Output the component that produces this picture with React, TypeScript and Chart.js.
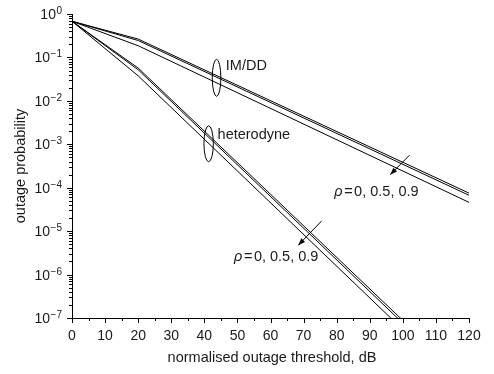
import React, { useEffect, useRef } from 'react';
import { Chart, registerables } from 'chart.js';

Chart.register(...registerables);

// Normalised outage threshold (dB)
const imddThresholds = [0, 20, 120];
const imddRho0 = [0.68, 0.265, 7.5e-5];
const imddRho05 = [0.68, 0.245, 6.7e-5];
const imddRho09 = [0.68, 0.186, 4.6e-5];

const hetThresholds = [0, 20, 100];
const hetRho0 = [0.68, 0.057, 8.8e-8];
const hetRho05 = [0.68, 0.052, 7.6e-8];
const hetRho09 = [0.68, 0.0377, 5.4e-8];

const xTickValues = [0, 10, 20, 30, 40, 50, 60, 70, 80, 90, 100, 110, 120];
const yExponents = [0, -1, -2, -3, -4, -5, -6, -7];

const FONT = '"Liberation Sans", Arial, Helvetica, sans-serif';
const TEXT = '#1a1a1a';

const toPoints = (xs: number[], ys: number[]) => xs.map((x, i) => ({ x, y: ys[i] }));

const annotationPlugin = {
  id: 'annotations',
  afterDraw(chart: any) {
    const { ctx, chartArea } = chart;
    const x = chart.scales.x;
    const y = chart.scales.y;
    const px = (v: number) => x.getPixelForValue(v);
    const py = (v: number) => y.getPixelForValue(v);
    ctx.save();
    ctx.strokeStyle = '#000';
    ctx.fillStyle = TEXT;
    ctx.lineWidth = 1;

    // x ticks (major every 10, minor every 5), outward
    ctx.beginPath();
    for (let v = 0; v <= 120; v += 5) {
      const p = Math.round(px(v)) + 0.5;
      const len = v % 10 === 0 ? 5 : 3;
      ctx.moveTo(p, chartArea.bottom);
      ctx.lineTo(p, chartArea.bottom + len);
    }
    // y ticks (log major/minor), outward
    for (let e = -7; e <= 0; e++) {
      for (let m = 1; m <= 9; m++) {
        const v = m * Math.pow(10, e);
        if (v > 1.0000001) break;
        const p = Math.round(py(v)) + 0.5;
        const len = m === 1 ? 5 : 3;
        ctx.moveTo(chartArea.left, p);
        ctx.lineTo(chartArea.left - len, p);
      }
    }
    ctx.stroke();

    // y labels 10^n
    ctx.textAlign = 'left';
    ctx.textBaseline = 'alphabetic';
    const rightEdge = chartArea.left - 10;
    yExponents.forEach((e) => {
      const p = py(Math.pow(10, e));
      const expStr = e === 0 ? '0' : '\u2212' + String(-e);
      ctx.font = `10px ${FONT}`;
      const we = ctx.measureText(expStr).width;
      ctx.font = `14px ${FONT}`;
      const wb = ctx.measureText('10').width;
      ctx.fillText('10', rightEdge - we - wb - 0.5, p + 5);
      ctx.font = `10px ${FONT}`;
      ctx.fillText(expStr, rightEdge - we, p);
    });

    // axis titles
    ctx.font = `14.5px ${FONT}`;
    ctx.textAlign = 'center';
    ctx.textBaseline = 'middle';
    ctx.fillText('normalised outage threshold, dB', 272, 358);
    ctx.save();
    ctx.translate(21, (chartArea.top + chartArea.bottom) / 2);
    ctx.rotate(-Math.PI / 2);
    ctx.fillText('outage probability', 0, 0);
    ctx.restore();

    // ellipses
    ctx.strokeStyle = '#000';
    ctx.beginPath();
    ctx.ellipse(px(43.7), py(0.0339), 4.3, 18.5, 0, 0, Math.PI * 2);
    ctx.stroke();
    ctx.beginPath();
    ctx.ellipse(px(41.3), py(1.03e-3), 4.7, 18, 0, 0, Math.PI * 2);
    ctx.stroke();

    // labels
    ctx.textAlign = 'left';
    ctx.textBaseline = 'middle';
    ctx.font = `14.5px ${FONT}`;
    ctx.fillText('IM/DD', px(46.5), py(0.0646));
    ctx.fillText('heterodyne', px(44.0), py(1.6e-3));

    const rhoLabel = (xv: number, yv: number) => {
      let cx = px(xv);
      const cy = py(yv);
      ctx.font = `italic 14.5px ${FONT}`;
      ctx.fillText('\u03C1', cx, cy);
      cx += ctx.measureText('\u03C1').width + 1.5;
      ctx.font = `14.5px ${FONT}`;
      ctx.fillText('=', cx, cy);
      cx += ctx.measureText('=').width + 1.5;
      ctx.fillText('0, 0.5, 0.9', cx, cy);
    };
    rhoLabel(79.3, 8.1e-5);
    rhoLabel(49.0, 2.5e-6);

    const arrow = (x1: number, y1: number, x2: number, y2: number) => {
      const ax = px(x1), ay = py(y1), bx = px(x2), by = py(y2);
      const ang = Math.atan2(by - ay, bx - ax);
      ctx.strokeStyle = '#000';
      ctx.fillStyle = '#000';
      ctx.beginPath();
      ctx.moveTo(ax, ay);
      ctx.lineTo(bx, by);
      ctx.stroke();
      const L = 7, W = 2.6;
      ctx.beginPath();
      ctx.moveTo(bx, by);
      ctx.lineTo(bx - L * Math.cos(ang) + W * Math.sin(ang), by - L * Math.sin(ang) - W * Math.cos(ang));
      ctx.lineTo(bx - L * Math.cos(ang) - W * Math.sin(ang), by - L * Math.sin(ang) + W * Math.cos(ang));
      ctx.closePath();
      ctx.fill();
    };
    arrow(102.0, 5.6e-4, 96.2, 2.0e-4);
    arrow(75.5, 1.73e-5, 68.4, 4.75e-6);

    ctx.restore();
  },
};

export default function App() {
  const canvasRef = useRef<HTMLCanvasElement | null>(null);

  useEffect(() => {
    document.body.style.margin = '0';
    const canvas = canvasRef.current;
    if (!canvas) return;
    const line = (data: { x: number; y: number }[]) => ({
      data,
      borderColor: '#000',
      borderWidth: 1,
      pointRadius: 0,
      tension: 0,
      fill: false,
    });
    const chart = new Chart(canvas, {
      type: 'line',
      data: {
        datasets: [
          { label: 'IM/DD ρ=0', ...line(toPoints(imddThresholds, imddRho0)) },
          { label: 'IM/DD ρ=0.5', ...line(toPoints(imddThresholds, imddRho05)) },
          { label: 'IM/DD ρ=0.9', ...line(toPoints(imddThresholds, imddRho09)) },
          { label: 'heterodyne ρ=0', ...line(toPoints(hetThresholds, hetRho0)) },
          { label: 'heterodyne ρ=0.5', ...line(toPoints(hetThresholds, hetRho05)) },
          { label: 'heterodyne ρ=0.9', ...line(toPoints(hetThresholds, hetRho09)) },
        ],
      },
      options: {
        animation: false,
        responsive: true,
        maintainAspectRatio: false,
        layout: { padding: { top: 14, right: 25, left: 0, bottom: 0 } },
        plugins: { legend: { display: false }, tooltip: { enabled: false } },
        scales: {
          x: {
            type: 'linear',
            min: 0,
            max: 120,
            afterBuildTicks: (scale: any) => {
              scale.ticks = xTickValues.map((v) => ({ value: v }));
            },
            ticks: {
              color: TEXT,
              font: { family: FONT, size: 14 },
              padding: 2,
              maxRotation: 0,
              autoSkip: false,
            },
            grid: { display: false },
            border: { display: true, color: '#000', width: 1 },
            afterFit: (scale: any) => {
              scale.height = 56;
            },
          },
          y: {
            type: 'logarithmic',
            min: 1e-7,
            max: 1,
            ticks: { display: false },
            grid: { display: false },
            border: { display: true, color: '#000', width: 1 },
            afterFit: (scale: any) => {
              scale.width = 72;
            },
          },
        },
      },
      plugins: [annotationPlugin],
    });
    return () => chart.destroy();
  }, []);

  return (
    <div style={{ width: 494, height: 374, position: 'relative', background: '#fff' }}>
      <canvas ref={canvasRef} />
    </div>
  );
}
